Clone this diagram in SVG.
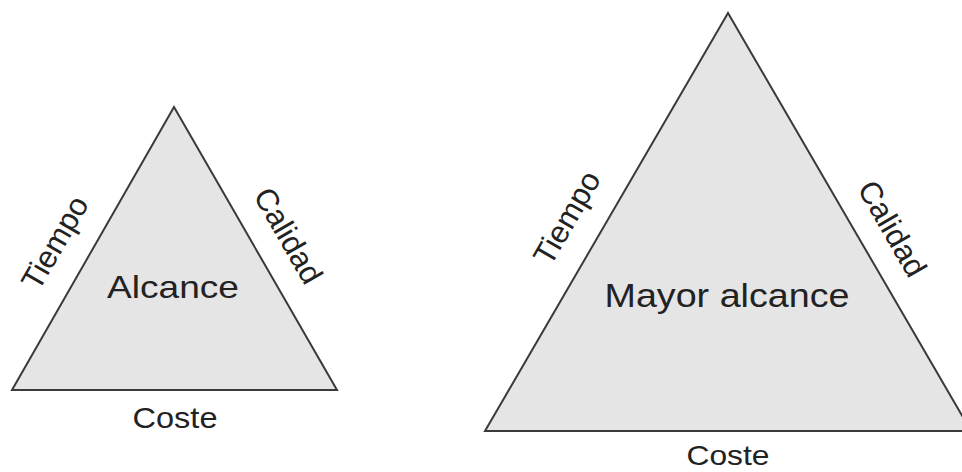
<svg xmlns="http://www.w3.org/2000/svg" width="962" height="472" viewBox="0 0 962 472">
<style>
.tri{fill:#e5e5e5;stroke:#3a3a3a;stroke-width:2;stroke-linejoin:miter}
.t{font-family:"Liberation Sans",Arial,sans-serif;fill:#222;text-anchor:middle}
.s{font-size:31px}
</style>
<rect width="962" height="472" fill="#fff"/>
<g id="triangulo-alcance">
<polygon class="tri" points="174,107 12,390 337,390"/>
<text class="t" x="173" y="298" font-size="32" textLength="132" lengthAdjust="spacingAndGlyphs">Alcance</text>
<text class="t s" x="64" y="248" transform="rotate(-60 64 248)">Tiempo</text>
<text class="t s" x="279" y="241" transform="rotate(60 279 241)">Calidad</text>
<text class="t" x="175" y="428" font-size="29" textLength="85" lengthAdjust="spacingAndGlyphs">Coste</text>
</g>
<g id="triangulo-mayor-alcance">
<polygon class="tri" points="728,13 485,431 971,431"/>
<text class="t" x="727" y="307" font-size="33" textLength="245" lengthAdjust="spacingAndGlyphs">Mayor alcance</text>
<text class="t s" x="576" y="223" transform="rotate(-60 576 223)">Tiempo</text>
<text class="t s" x="883" y="234" transform="rotate(60 883 234)">Calidad</text>
<text class="t" x="728" y="465" font-size="28" textLength="83" lengthAdjust="spacingAndGlyphs">Coste</text>
</g>
<g id="connectors"></g>
</svg>
